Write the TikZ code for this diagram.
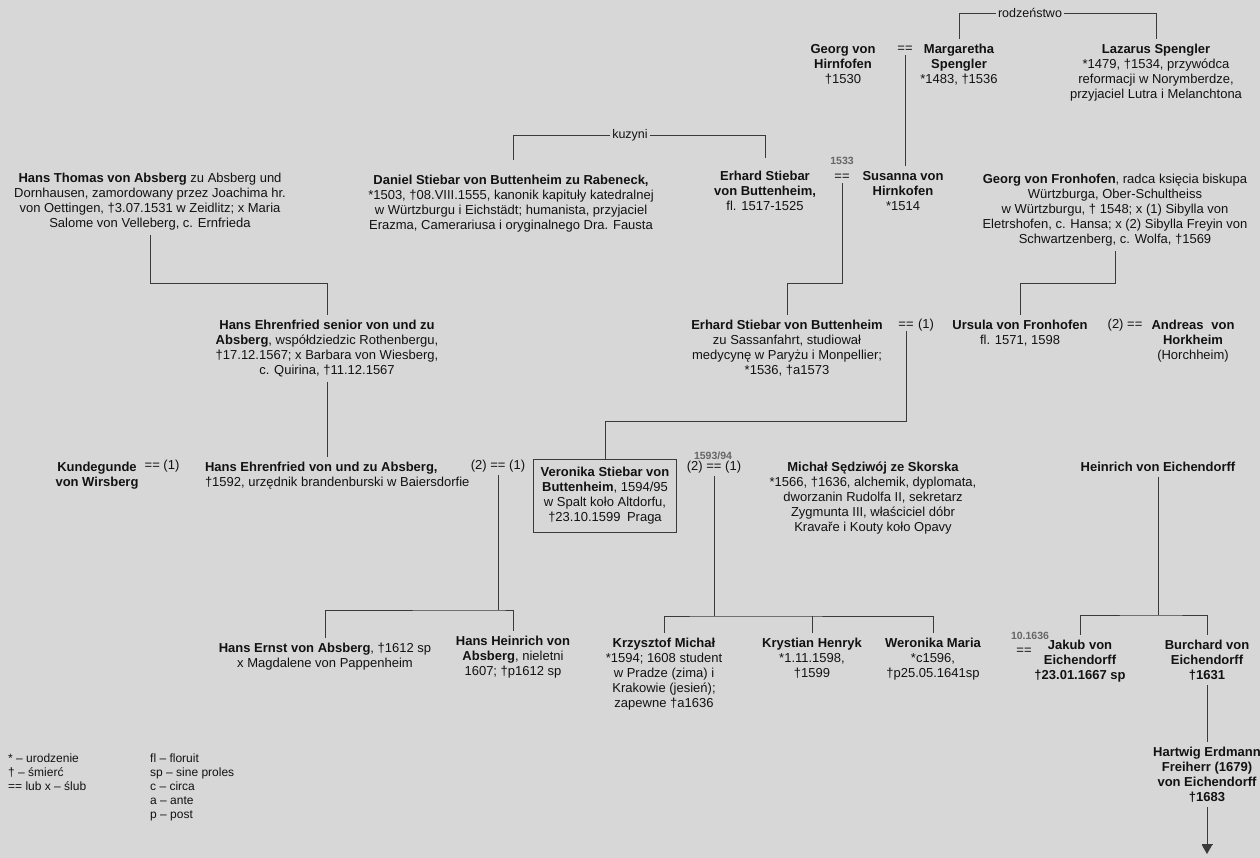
\documentclass[tikz,border=0pt]{standalone}
\usepackage{fontspec}
\setmainfont{Liberation Sans}
\usetikzlibrary{arrows.meta}
\definecolor{bg}{RGB}{215,215,215}
\definecolor{ink}{RGB}{18,18,18}
\definecolor{ln}{RGB}{58,58,58}
\begin{document}
\begin{tikzpicture}[x=1pt,y=-1pt,
  every node/.style={text=ink, font=\fontsize{13}{15}\selectfont},
  per/.style={align=center, anchor=north, inner sep=0pt, outer xsep=0pt, outer ysep=5pt},
  perl/.style={align=left, anchor=north west, inner sep=0pt, outer xsep=0pt, outer ysep=5pt},
  mar/.style={inner sep=0pt, outer sep=3pt},
  lab/.style={inner sep=2pt, font=\fontsize{12.5}{14}\selectfont},
  yr/.style={inner sep=0pt, font=\fontsize{10.5}{12}\selectfont\bfseries, text=black!60},
  con/.style={draw=ln, line width=0.9pt},
  boxed/.style={draw=ln, line width=0.9pt, align=center, anchor=north, inner xsep=7pt, inner ysep=8pt},
  leg/.style={align=left, anchor=north west, inner sep=0pt, font=\fontsize{12}{14}\selectfont},
]
\useasboundingbox (0,0) rectangle (1260,858);
\clip (0,0) rectangle (1260,858);
\fill[bg] (0,0) rectangle (1260,858);

% ---------- row 1
\node[per] (georg) at (843,39) {\textbf{Georg von}\\\textbf{Hirnfofen}\\†1530};
\node[mar] (eq1) at (905,49) {==};
\node[per] (marg) at (959,39) {\textbf{Margaretha}\\\textbf{Spengler}\\*1483, †1536};
\node[per] (laz) at (1156,39) {\textbf{Lazarus Spengler}\\*1479, †1534, przywódca\\reformacji w Norymberdze,\\przyjaciel Lutra i Melanchtona};
\node[lab] (rodz) at (1030,13) {rodzeństwo};

% ---------- row 2
\node[lab] (kuz) at (630,135) {kuzyni};
\coordinate (danTop) at (513,160);
\coordinate (erhTop) at (765,158);
\node[per] (thomas) at (150,168) {\textbf{Hans Thomas von Absberg} zu Absberg und\\Dornhausen, zamordowany przez Joachima hr.\\von Oettingen, †3.07.1531 w Zeidlitz; x Maria\\Salome von Velleberg, c. Ernfrieda};
\node[per] (daniel) at (511,170) {\textbf{Daniel Stiebar von Buttenheim zu Rabeneck,}\\*1503, †08.VIII.1555, kanonik kapituły katedralnej\\w Würtzburgu i Eichstädt; humanista, przyjaciel\\Erazma, Camerariusa i oryginalnego Dra. Fausta};
\node[per] (erhard) at (765,166) {\textbf{Erhard Stiebar}\\\textbf{von Buttenheim,}\\fl. 1517-1525};
\node[yr] (y1533) at (842,161) {1533};
\node[mar] (eq2) at (842,177) {==};
\node[per] (susanna) at (903,166) {\textbf{Susanna von}\\\textbf{Hirnkofen}\\*1514};
\node[per] (fron) at (1115,169) {\textbf{Georg von Fronhofen}, radca księcia biskupa\\Würtzburga, Ober-Schultheiss\\w Würtzburgu, † 1548; x (1) Sibylla von\\Eletrshofen, c. Hansa; x (2) Sibylla Freyin von\\Schwartzenberg, c. Wolfa, †1569};

% ---------- row 3
\node[per] (senior) at (327,315) {\textbf{Hans Ehrenfried senior von und zu}\\\textbf{Absberg}, współdziedzic Rothenbergu,\\†17.12.1567; x Barbara von Wiesberg,\\c. Quirina, †11.12.1567};
\node[per] (erhardjr) at (787,315) {\textbf{Erhard Stiebar von Buttenheim}\\zu Sassanfahrt, studiował\\medycynę w Paryżu i Monpellier;\\*1536, †a1573};
\node[mar] (eq3) at (906,325) {==};
\node[mar] (n1a) at (926,325) {(1)};
\node[per] (ursula) at (1020,315) {\textbf{Ursula von Fronhofen}\\fl. 1571, 1598};
\node[mar] (eq4) at (1125,325) {(2) ==};
\node[per] (andreas) at (1193,315) {\textbf{Andreas\hspace{0.6em}von}\\\textbf{Horkheim}\\(Horchheim)};

% ---------- row 4
\node[per] (kund) at (97,457) {\textbf{Kundegunde}\\\textbf{von Wirsberg}};
\node[mar] (eqK) at (162,466) {== (1)};
\node[perl] (hansE) at (205,457) {\textbf{Hans Ehrenfried von und zu Absberg,}\\†1592, urzędnik brandenburski w Baiersdorfie};
\node[mar] (eqA) at (498,466) {(2) == (1)};
\node[boxed] (vero) at (605,459) {\textbf{Veronika Stiebar von}\\\textbf{Buttenheim}, 1594/95\\w Spalt koło Altdorfu,\\†23.10.1599\hspace{0.5em}Praga};
\node[yr] (y1593) at (713,456) {1593/94};
\node[mar] (eqB) at (714,467) {(2) == (1)};
\node[per] (michal) at (873,457) {\textbf{Michał Sędziwój ze Skorska}\\*1566, †1636, alchemik, dyplomata,\\dworzanin Rudolfa II, sekretarz\\Zygmunta III, właściciel dóbr\\Kravaře i Kouty koło Opavy};
\node[per] (heinrich) at (1158,457) {\textbf{Heinrich von Eichendorff}};

% ---------- row 5
\node[per] (hernst) at (325,638) {\textbf{Hans Ernst von Absberg}, †1612 sp\\x Magdalene von Pappenheim};
\node[per] (hheinrich) at (513,631) {\textbf{Hans Heinrich von}\\\textbf{Absberg}, nieletni\\1607; †p1612 sp};
\node[per] (krzysztof) at (664,633) {\textbf{Krzysztof Michał}\\*1594; 1608 student\\w Pradze (zima) i\\Krakowie (jesień);\\zapewne †a1636};
\node[per] (krystian) at (812,633) {\textbf{Krystian Henryk}\\*1.11.1598,\\†1599};
\node[per] (weronika) at (933,633) {\textbf{Weronika Maria}\\*c1596,\\†p25.05.1641sp};
\node[yr] (y1636) at (1030,636) {10.1636};
\node[mar] (eqC) at (1024,651) {==};
\node[per] (jakub) at (1080,635) {\textbf{Jakub von}\\\textbf{Eichendorff}\\\textbf{†23.01.1667 sp}};
\node[per] (burchard) at (1207,635) {\textbf{Burchard von}\\\textbf{Eichendorff}\\\textbf{†1631}};
\node[per] (hartwig) at (1207,742) {\textbf{Hartwig Erdmann}\\\textbf{Freiherr (1679)}\\\textbf{von Eichendorff}\\\textbf{†1683}};
\coordinate (arrEnd) at (1207,854);

% ---------- legend
\node[leg] (leg1) at (8,754) {* -- urodzenie\\† -- śmierć\\== lub x -- ślub};
\node[leg] (leg2) at (150,754) {fl -- floruit\\sp -- sine proles\\c -- circa\\a -- ante\\p -- post};

% ---------- junctions
\coordinate (j1) at (0,283);
\coordinate (j2) at (0,283);
\coordinate (j4) at (0,421);
\coordinate (j5) at (eqA.south |- 0,610);
\coordinate (j6) at (eqB.south |- 0,616);
\coordinate (j7) at (heinrich.south |- 0,615);

% ---------- connectors
\draw[con] (rodz.west) -| (marg.north);
\draw[con] (rodz.east) -| (laz.north);
\draw[con] (eq1.south) -- (eq1.south |- susanna.north);
\draw[con] (kuz.west) -| (danTop);
\draw[con] (kuz.east) -| (erhTop);
\draw[con] (thomas.south) -- (thomas.south |- j1) -| (senior.north);
\draw[con] (senior.south) -- (senior.south |- hansE.north);
\draw[con] (eq2.south) -- (eq2.south |- j2) -| (erhardjr.north);
\draw[con] (fron.south) -- (fron.south |- j2) -| (ursula.north);
\draw[con] (eq3.south) -- (eq3.south |- j4) -| (vero.north);
\draw[con] (eqA.south) -- (j5);
\draw[con] (hernst.north) |- (j5) -| (hheinrich.north);
\draw[con] (eqB.south) -- (j6);
\draw[con] (krzysztof.north) |- (j6) -| (weronika.north);
\draw[con] (krystian.north) -- (krystian.north |- j6);
\draw[con] (heinrich.south) -- (j7);
\draw[con] (jakub.north) |- (j7) -| (burchard.north);
\draw[con] (burchard.south) -- (hartwig.north);
\draw[con, -{Bar[width=11pt,sep=0pt]Triangle[width=10pt,length=9pt]}] (hartwig.south) -- (arrEnd);
\end{tikzpicture}
\end{document}
